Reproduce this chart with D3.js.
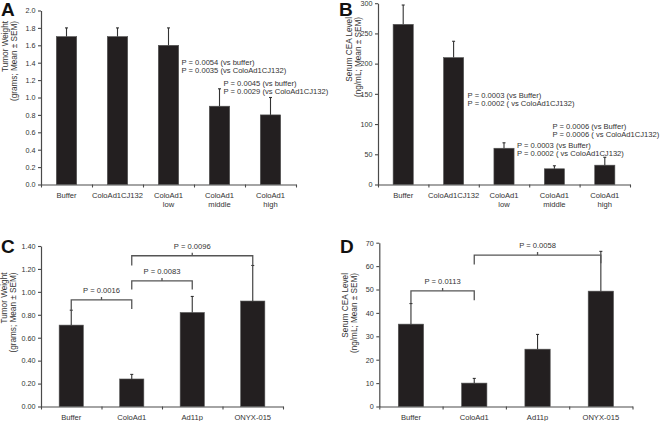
<!DOCTYPE html>
<html>
<head>
<meta charset="utf-8">
<script src="https://cdn.jsdelivr.net/npm/d3@7"></script>
<style>
  body { margin: 0; background: #fff; }
  svg { display: block; font-family: "Liberation Sans", Arial, Helvetica, sans-serif; }
</style>
</head>
<body>
<svg id="chart" width="661" height="421"></svg>
<script>
// categories
const catsAB = ["Buffer", "ColoAd1CJ132", "ColoAd1\nlow", "ColoAd1\nmiddle", "ColoAd1\nhigh"];
const catsCD = ["Buffer", "ColoAd1", "Ad11p", "ONYX-015"];

// series values (mean) and SEM
const tumorA = [1.7, 1.7, 1.6, 0.9, 0.8];
const tumorASem = [0.1, 0.1, 0.2, 0.2, 0.2];
const ceaB = [265, 210, 60, 26, 32];
const ceaBSem = [32, 27, 9, 5, 13];
const tumorC = [0.71, 0.24, 0.82, 0.92];
const tumorCSem = [0.13, 0.04, 0.14, 0.31];
const ceaD = [35.2, 10, 24.5, 49.3];
const ceaDSem = [8.8, 2, 6.3, 17];

// tick labels
const ticksA = [0, 0.2, 0.4, 0.6, 0.8, 1.0, 1.2, 1.4, 1.6, 1.8, 2.0];
const ticksB = [0, 50, 100, 150, 200, 250, 300];
const ticksC = [0, 0.2, 0.4, 0.6, 0.8, 1.0, 1.2, 1.4];
const ticksD = [0, 10, 20, 30, 40, 50, 60, 70];

// p-value notes (A, B) : category index, value of first line
const notesA = [
  { cat: 2, v: 1.37, lines: ["P = 0.0054 (vs buffer)", "P = 0.0035 (vs ColoAd1CJ132)"] },
  { cat: 3, v: 1.13, lines: ["P = 0.0045 (vs buffer)", "P = 0.0029 (vs ColoAd1CJ132)"] }
];
const notesB = [
  { cat: 1, v: 142.5, lines: ["P = 0.0003 (vs Buffer)", "P = 0.0002 ( vs ColoAd1CJ132)"] },
  { cat: 3, v: 92.3, lines: ["P = 0.0006 (vs Buffer)", "P = 0.0006 ( vs ColoAd1CJ132)"] },
  { cat: 2, v: 60.8, lines: ["P = 0.0003 (vs Buffer)", "P = 0.0002 ( vs ColoAd1CJ132)"] }
];
// brackets (C, D) : from/to category, bar level, leg ends
const bracketsC = [
  { a: 0, b: 1, y: 0.93, ya: 0.84, yb: 0.85, label: "P = 0.0016" },
  { a: 1, b: 2, y: 1.095, ya: 1.02, yb: 1.02, label: "P = 0.0083" },
  { a: 1, b: 3, y: 1.315, ya: 1.23, yb: 1.23, label: "P = 0.0096" }
];
const bracketsD = [
  { a: 0, b: 1, y: 49.4, ya: 44, yb: 45.4, label: "P = 0.0113" },
  { a: 1, b: 3, y: 64.7, ya: 60.7, yb: 61.2, label: "P = 0.0058" }
];

const svg = d3.select("#chart");
const axisColor = "#4a4a4a";
const textColor = "#333";

const panels = [
  { letter: "A", lx: 1, ly: 16, cats: catsAB, vals: tumorA, sem: tumorASem, ticks: ticksA, fmt: d3.format(".1f"),
    domain: [0, 2], x: [41, 296], y: [184.5, 10.5], title: ["Tumor Weight", "(grams; Mean \u00b1 SEM)"],
    tx: [8, 16.5], ty: 21, notes: notesA, noteDx: [13, 4] },
  { letter: "B", lx: 339, ly: 16, cats: catsAB, vals: ceaB, sem: ceaBSem, ticks: ticksB, fmt: d3.format("d"),
    domain: [0, 300], x: [378, 630], y: [184.5, 3.2], title: ["Serum CEA Level", "(ng/mL; Mean \u00b1 SEM)"],
    tx: [352, 360.5], ty: 17, notes: notesB, noteDx: [14, -2, 13] },
  { letter: "C", lx: 1, ly: 253, cats: catsCD, vals: tumorC, sem: tumorCSem, ticks: ticksC, fmt: d3.format(".2f"),
    domain: [0, 1.4], x: [41, 283], y: [406.5, 246], title: ["Tumor Weight", "(grams; Mean \u00b1 SEM)"],
    tx: [7, 15.5], ty: 272.5, brackets: bracketsC },
  { letter: "D", lx: 340, ly: 253, cats: catsCD, vals: ceaD, sem: ceaDSem, ticks: ticksD, fmt: d3.format("d"),
    domain: [0, 70], x: [379.3, 632.5], y: [406.5, 242.7], title: ["Serum CEA Level", "(ng/mL; Mean \u00b1 SEM)"],
    tx: [348, 356.5], ty: 273, brackets: bracketsD }
];

panels.forEach(p => drawPanel(p));

function drawPanel(p) {
  const g = svg.append("g");
  const n = p.cats.length;
  const xb = d3.scaleBand(d3.range(n), p.x);
  const xEdge = d3.scaleLinear([0, n], p.x);
  const y = d3.scaleLinear(p.domain, p.y);
  const barW = xb.bandwidth() * 0.4;
  const cx = i => xb(i) + xb.bandwidth() / 2;

  // bars
  g.append("g").selectAll("rect")
    .data(p.vals)
    .join("rect")
    .attr("x", (d, i) => cx(i) - barW / 2)
    .attr("y", d => y(d))
    .attr("width", barW)
    .attr("height", d => y(0) - y(d))
    .attr("fill", "#231f20")
    .attr("stroke", "#555")
    .attr("stroke-width", 0.6);

  // error bars (upper half only)
  const eg = g.append("g").attr("stroke", "#333").attr("stroke-width", 1.1);
  p.vals.forEach((v, i) => {
    const top = y(v + p.sem[i]);
    eg.append("line").attr("x1", cx(i)).attr("x2", cx(i)).attr("y1", y(v)).attr("y2", top);
    eg.append("line").attr("x1", cx(i) - 1.5).attr("x2", cx(i) + 1.5).attr("y1", top).attr("y2", top);
  });

  // y axis
  const ya = g.append("g")
    .attr("transform", `translate(${p.x[0]},0)`)
    .call(d3.axisLeft(y).tickValues(p.ticks).tickFormat(p.fmt).tickSize(3).tickPadding(2.5).tickSizeOuter(0));
  styleAxis(ya);

  // x axis with ticks at category boundaries
  const xa = g.append("g")
    .attr("transform", `translate(0,${p.y[0]})`)
    .call(d3.axisBottom(xEdge).tickValues(d3.range(n + 1)).tickFormat("").tickSize(3).tickSizeOuter(0));
  styleAxis(xa);

  // category labels
  g.append("g").selectAll("text")
    .data(p.cats)
    .join("text")
    .attr("text-anchor", "middle")
    .attr("font-size", 7.6)
    .attr("fill", textColor)
    .each(function (d, i) {
      d.split("\n").forEach((s, k) => {
        d3.select(this).append("tspan")
          .attr("x", cx(i))
          .attr("y", p.y[0] + 13 + k * 9.5)
          .text(s);
      });
    });

  // y title
  p.title.forEach((s, k) => {
    g.append("text")
      .attr("transform", `translate(${p.tx[k]},${p.ty}) rotate(-90)`)
      .attr("text-anchor", "end")
      .attr("font-size", 8.2)
      .attr("fill", textColor)
      .text(s);
  });

  // panel letter
  g.append("text")
    .attr("x", p.lx).attr("y", p.ly)
    .attr("font-size", 19)
    .attr("font-weight", "bold")
    .attr("fill", "#111")
    .text(p.letter);

  // notes
  (p.notes || []).forEach((nt, j) => {
    nt.lines.forEach((s, k) => {
      g.append("text")
        .attr("x", cx(nt.cat) + p.noteDx[j])
        .attr("y", y(nt.v) + k * 7.8)
        .attr("font-size", 7.6)
        .attr("fill", textColor)
        .text(s);
    });
  });

  // brackets
  (p.brackets || []).forEach(b => {
    const xa0 = cx(b.a), xb0 = cx(b.b), yy = y(b.y), mid = (xa0 + xb0) / 2;
    g.append("path")
      .attr("d", `M${xa0},${y(b.ya)}V${yy}H${xb0}V${y(b.yb)}M${mid},${yy}V${yy - 3}`)
      .attr("fill", "none")
      .attr("stroke", "#555")
      .attr("stroke-width", 1.3);
    g.append("text")
      .attr("x", mid).attr("y", yy - 7)
      .attr("text-anchor", "middle")
      .attr("font-size", 7.6)
      .attr("fill", textColor)
      .text(b.label);
  });
}

function styleAxis(sel) {
  sel.select(".domain").attr("stroke", axisColor).attr("stroke-width", 1.2);
  sel.selectAll(".tick line").attr("stroke", axisColor).attr("stroke-width", 1.1);
  sel.selectAll(".tick text").attr("fill", textColor).attr("font-size", 7.2)
    .attr("font-family", "'Liberation Sans', Arial, Helvetica, sans-serif");
}
</script>
</body>
</html>
